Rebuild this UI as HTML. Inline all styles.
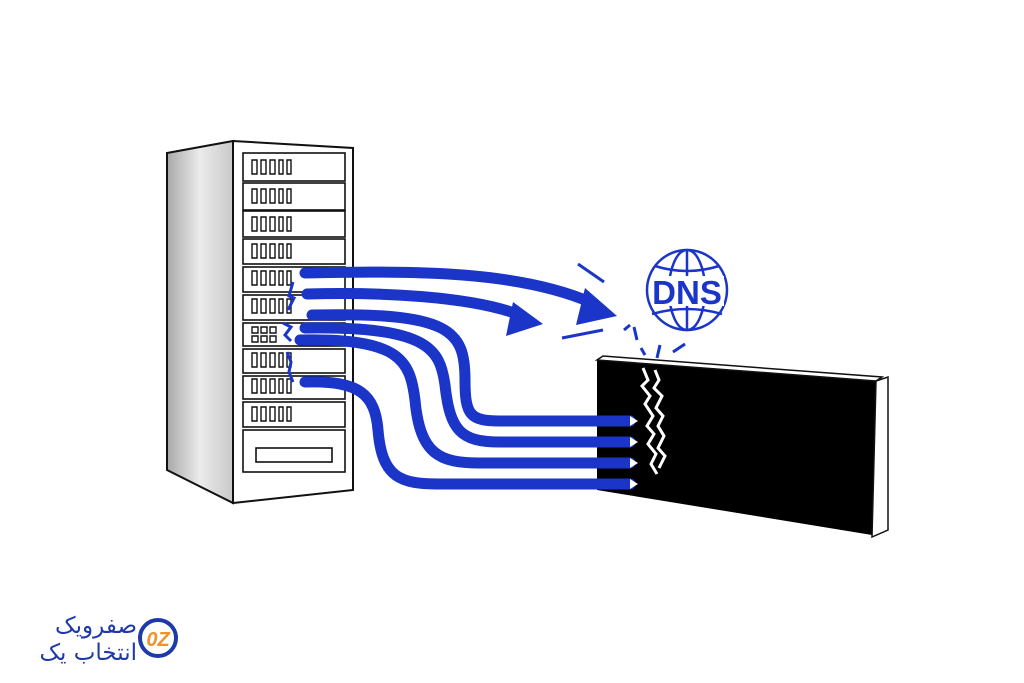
<!DOCTYPE html>
<html><head><meta charset="utf-8"><style>
html,body{margin:0;padding:0;background:#fff;width:1024px;height:683px;overflow:hidden}
</style></head><body>
<svg width="1024" height="683" viewBox="0 0 1024 683" xmlns="http://www.w3.org/2000/svg">
<defs>
<linearGradient id="side" x1="0" x2="1" y1="0" y2="0">
<stop offset="0" stop-color="#a8a8a8"/><stop offset="0.5" stop-color="#ececec"/><stop offset="1" stop-color="#c8c8c8"/>
</linearGradient>
</defs>
<polygon points="167,153 233,141 233,503 167,470" fill="url(#side)" stroke="#111" stroke-width="2"/>
<polygon points="233,141 353,148 353,490 233,503" fill="#fff" stroke="#111" stroke-width="2"/>
<g stroke="#111" stroke-width="1.6" fill="#fff">
<rect x="243" y="153" width="102" height="28"/>
<rect x="243" y="183" width="102" height="27"/>
<rect x="243" y="211" width="102" height="26"/>
<rect x="243" y="239" width="102" height="25"/>
<rect x="243" y="267" width="102" height="25"/>
<rect x="243" y="295" width="102" height="25"/>
<rect x="243" y="323" width="102" height="23"/>
<rect x="243" y="349" width="102" height="24"/>
<rect x="243" y="376" width="102" height="23"/>
<rect x="243" y="402" width="102" height="25"/>
<rect x="243" y="430" width="102" height="42"/>
<rect x="256" y="448" width="76" height="14"/>
</g>
<g stroke="#111" stroke-width="1.4" fill="none">
<path id="leds" d="M252 160h5v14h-5zM261 160h5v14h-5zM270 160h5v14h-5zM279 160h4v14h-4zM287 160h4v14h-4z"/>
</g>
<g stroke="#111" stroke-width="1.4" fill="none">
<use href="#leds" y="29"/><use href="#leds" y="57"/><use href="#leds" y="84"/><use href="#leds" y="111"/><use href="#leds" y="139"/><use href="#leds" y="193"/><use href="#leds" y="219"/><use href="#leds" y="247"/>
<path d="M252 327h6v6h-6zM261 327h6v6h-6zM270 327h6v6h-6zM252 336h6v6h-6zM261 336h6v6h-6zM270 336h6v6h-6z"/>
</g>
<polygon points="597,360 876,381 872,535 597,490" fill="#000"/>
<polygon points="597,360 603,356 882,377 876,381" fill="#fff" stroke="#111" stroke-width="1.5"/>
<polygon points="876,381 888,377 888,530 872,537" fill="#fff" stroke="#111" stroke-width="1.5"/>
<path d="M643 368 l5 12 -6 6 8 10 -5 8 8 12 -6 10 7 8 -6 10 8 10 -5 10 6 10" stroke="#fff" stroke-width="3" fill="none"/>
<path d="M655 370 l4 10 -5 8 8 8 -6 12 7 8 -5 10 6 10 -6 12 7 8 -6 12" stroke="#fff" stroke-width="3" fill="none"/>
<g stroke="#1a35c8" stroke-width="11" fill="none" stroke-linecap="round">
<path d="M305 273 C420 270 520 272 590 302"/>
<path d="M307 294 C380 292 470 296 520 315"/>
<path d="M312 315 C450 312 465 330 465 380 C465 415 470 421 500 421 L630 421"/>
<path d="M305 328 C430 326 440 350 445 385 C450 430 460 442 500 442 L630 442"/>
<path d="M300 340 C400 338 410 360 415 400 C420 455 440 463 480 463 L630 463"/>
<path d="M305 382 C360 380 375 395 378 430 C382 478 400 484 440 484 L630 484"/>
</g>
<polygon points="585,288 617,316 576,325" fill="#1a35c8"/>
<polygon points="513,302 543,324 506,336" fill="#1a35c8"/>
<g fill="#fff"><polygon points="630,416 638,421 630,426"/><polygon points="630,437 638,442 630,447"/><polygon points="630,458 638,463 630,468"/><polygon points="630,479 638,484 630,489"/></g>
<g stroke="#1a35c8" stroke-width="3" fill="none">
<path d="M293 282 l-4 14 5 2 -6 12"/><path d="M283 323 l8 4 -6 8 6 6"/><path d="M287 352 l4 10 -2 10 4 10"/>
</g>
<g stroke="#1a35c8" stroke-width="3">
<line x1="578" y1="264" x2="604" y2="282"/><line x1="562" y1="338" x2="603" y2="330"/>
<line x1="624" y1="330" x2="630" y2="325"/><line x1="634" y1="327" x2="637" y2="340"/>
<line x1="641" y1="348" x2="645" y2="355"/><line x1="660" y1="345" x2="657" y2="358"/><line x1="673" y1="352" x2="685" y2="344"/>
</g>
<g stroke="#1a35c8" stroke-width="2.5" fill="none">
<circle cx="687" cy="290" r="40"/>
<ellipse cx="687" cy="290" rx="18" ry="40"/>
<line x1="687" y1="250" x2="687" y2="330"/>
<path d="M655 266 Q687 276 719 266"/><path d="M652 314 Q687 304 722 314"/>
</g>
<rect x="652" y="276" width="72" height="30" fill="#fff"/>
<text x="687" y="304" text-anchor="middle" font-family="Liberation Sans, sans-serif" font-weight="bold" font-size="33" fill="#1a35c8">DNS</text>
<circle cx="158" cy="638" r="18" fill="none" stroke="#1e3aa8" stroke-width="4"/>
<text x="158" y="646" text-anchor="middle" font-family="Liberation Sans, sans-serif" font-weight="bold" font-style="italic" font-size="20" fill="#f0922a">0Z</text>
<text x="137" y="633" text-anchor="end" font-family="'DejaVu Sans', 'Noto Sans CJK SC', sans-serif" font-size="23" fill="#1e3aa8">صفرویک</text>
<text x="137" y="660" text-anchor="end" font-family="'DejaVu Sans', 'Noto Sans CJK SC', sans-serif" font-size="23" fill="#1e3aa8">انتخاب یک</text>
</svg>
</body></html>
